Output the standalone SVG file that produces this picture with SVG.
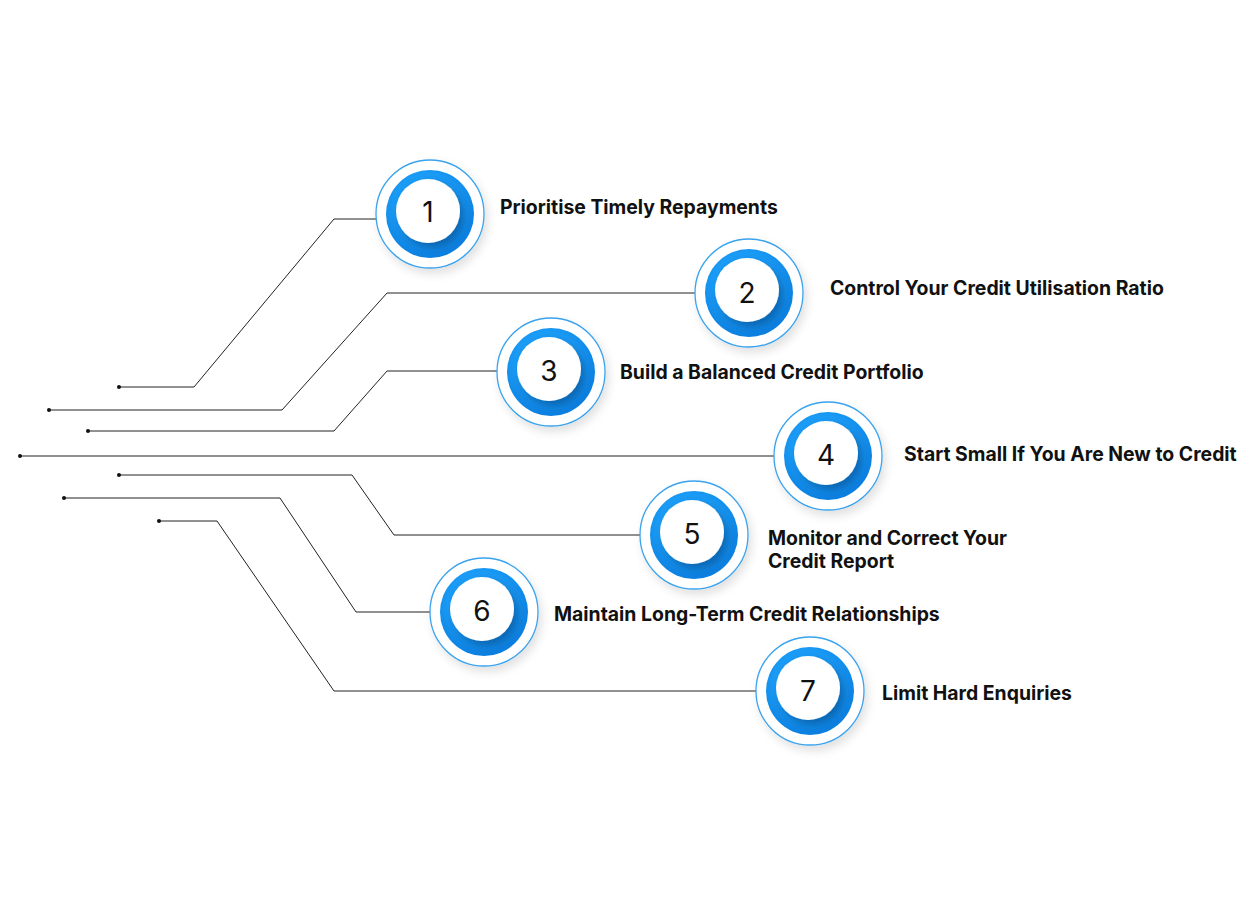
<svg xmlns="http://www.w3.org/2000/svg" width="1260" height="904" viewBox="0 0 1260 904">
<defs>
<radialGradient id="bl" cx="0.45" cy="0.4" r="0.6"><stop offset="0.6" stop-color="#1a9bf5"/><stop offset="1" stop-color="#0a7fe0"/></radialGradient>
<filter id="sh" x="-50%" y="-50%" width="200%" height="200%"><feDropShadow dx="4" dy="5" stdDeviation="4" flood-color="#002a60" flood-opacity="0.45"/></filter>
<filter id="sh2" x="-50%" y="-50%" width="200%" height="200%"><feDropShadow dx="3" dy="5" stdDeviation="5" flood-color="#000" flood-opacity="0.12"/></filter>
<g id="node">
<circle r="54" fill="#fff" stroke="#3aa3ee" stroke-width="1.3" filter="url(#sh2)"/>
<circle r="44" fill="url(#bl)"/>
<circle cx="-2" cy="-3" r="32" fill="#fff" filter="url(#sh)"/>
</g>
</defs>
<style>
.c{fill:none;stroke:#222;stroke-width:1}
.d{fill:#111}
.n{font-family:Inter,"Liberation Sans",sans-serif;font-size:28px;fill:#111;text-anchor:middle}
.t{font-family:Inter,"Liberation Sans",sans-serif;font-size:19.4px;font-weight:700;fill:#111}
</style>
<rect width="1260" height="904" fill="#fff"/>
<g id="connectors">
<polyline class="c" points="119,387 194,387 334,219 376,219"/>
<polyline class="c" points="49,410 282,410 387,293 695,293"/>
<polyline class="c" points="88,431 334,431 387,371 497,371"/>
<polyline class="c" points="20,456 774,456"/>
<polyline class="c" points="119,475 352,475 394,535 640,535"/>
<polyline class="c" points="64,498 280,498 356,612 430,612"/>
<polyline class="c" points="159,521 217,521 334,691 756,691"/>
<circle class="d" cx="119" cy="387" r="2"/><circle class="d" cx="49" cy="410" r="2"/><circle class="d" cx="88" cy="431" r="2"/><circle class="d" cx="20" cy="456" r="2"/><circle class="d" cx="119" cy="475" r="2"/><circle class="d" cx="64" cy="498" r="2"/><circle class="d" cx="159" cy="521" r="2"/>
</g>
<g id="n1"><use href="#node" x="430" y="214"/><text class="n" x="428" y="222">1</text><text class="t" x="500" y="214">Prioritise Timely Repayments</text></g>
<g id="n2"><use href="#node" x="749" y="293"/><text class="n" x="747" y="303">2</text><text class="t" x="830" y="295">Control Your Credit Utilisation Ratio</text></g>
<g id="n3"><use href="#node" x="551" y="372"/><text class="n" x="549" y="381">3</text><text class="t" x="620" y="379">Build a Balanced Credit Portfolio</text></g>
<g id="n4"><use href="#node" x="828" y="456"/><text class="n" x="826" y="465">4</text><text class="t" x="904" y="461">Start Small If You Are New to Credit</text></g>
<g id="n5"><use href="#node" x="694" y="535"/><text class="n" x="692" y="544">5</text><text class="t" x="768" y="545">Monitor and Correct Your</text><text class="t" x="768" y="568">Credit Report</text></g>
<g id="n6"><use href="#node" x="484" y="612"/><text class="n" x="482" y="621">6</text><text class="t" x="554" y="621">Maintain Long-Term Credit Relationships</text></g>
<g id="n7"><use href="#node" x="810" y="691"/><text class="n" x="808" y="701">7</text><text class="t" x="882" y="700">Limit Hard Enquiries</text></g>
</svg>
